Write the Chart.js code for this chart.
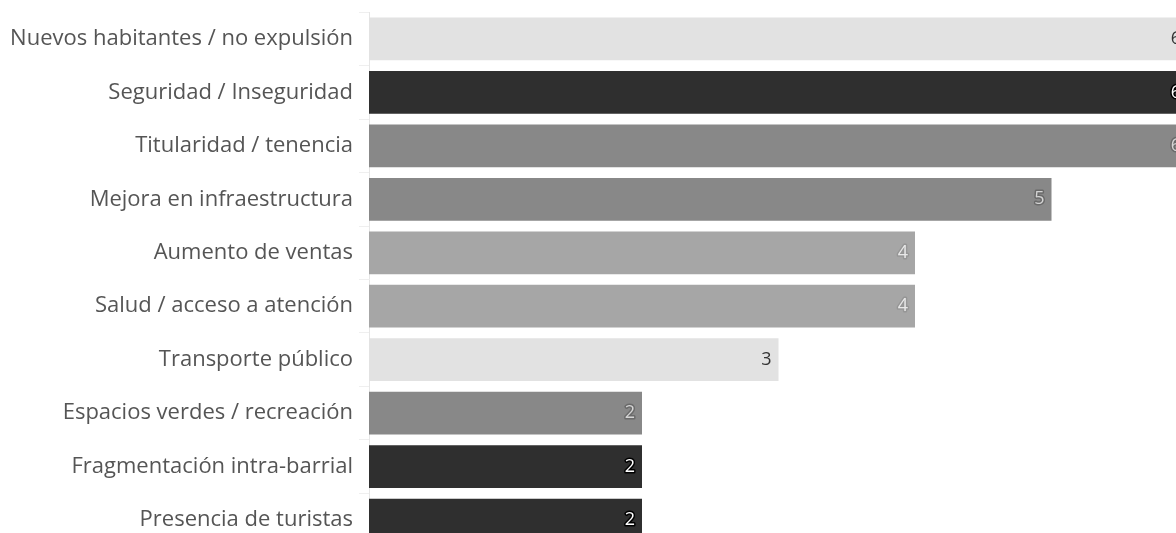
<!DOCTYPE html>
<html>
<head>
<meta charset="utf-8">
<script src="https://cdn.jsdelivr.net/npm/chart.js@4.4.1/dist/chart.umd.min.js"></script>
<style>
  html, body { margin: 0; padding: 0; background: #fff; overflow: hidden; }
  #wrap { position: relative; width: 1192px; height: 573px; margin-top: -7px; }
</style>
</head>
<body>
<div id="wrap"><canvas id="barChart"></canvas></div>
<script>
const categories = [
  "Nuevos habitantes / no expulsión",
  "Seguridad / Inseguridad",
  "Titularidad / tenencia",
  "Mejora en infraestructura",
  "Aumento de ventas",
  "Salud / acceso a atención",
  "Transporte público",
  "Espacios verdes / recreación",
  "Fragmentación intra-barrial",
  "Presencia de turistas"
];
const mentions = [6, 6, 6, 5, 4, 4, 3, 2, 2, 2];
const barColors = ["#e2e2e2", "#2f2f2f", "#888888", "#888888", "#a6a6a6", "#a6a6a6", "#e2e2e2", "#888888", "#2f2f2f", "#2f2f2f"];

// text colour + outline for the value labels, depending on bar shade
function labelStyle(bg) {
  if (bg === "#2f2f2f") return { fill: "#ffffff", stroke: "#000000" };
  if (bg === "#888888") return { fill: "#d4d4d4", stroke: "#6a6a6a" };
  if (bg === "#a6a6a6") return { fill: "#e8e8e8", stroke: "#969696" };
  return { fill: "#333333", stroke: null };
}

const valueLabels = {
  id: "valueLabels",
  afterDatasetsDraw(chart) {
    const ctx = chart.ctx;
    const meta = chart.getDatasetMeta(0);
    ctx.save();
    ctx.font = "18px 'Open Sans', sans-serif";
    ctx.textAlign = "right";
    ctx.textBaseline = "middle";
    meta.data.forEach((bar, i) => {
      const st = labelStyle(barColors[i]);
      const x = bar.x - 7;
      const y = bar.y;
      const txt = String(mentions[i]);
      if (st.stroke) {
        ctx.lineWidth = 3;
        ctx.strokeStyle = st.stroke;
        ctx.lineJoin = "round";
        ctx.strokeText(txt, x, y);
      }
      ctx.fillStyle = st.fill;
      ctx.fillText(txt, x, y);
    });
    ctx.restore();
  }
};

const ctx = document.getElementById("barChart").getContext("2d");

new Chart(ctx, {
  type: "bar",
  data: {
    labels: categories,
    datasets: [
      {
        data: mentions,
        backgroundColor: barColors,
        borderWidth: 0,
        categoryPercentage: 0.8,
        barPercentage: 1.0,
      },
    ],
  },
  options: {
    indexAxis: "y",
    responsive: true,
    maintainAspectRatio: false,
    animation: false,
    layout: { padding: { top: 0, right: 4, bottom: 0, left: 0 } },
    plugins: {
      legend: { display: false },
      tooltip: { enabled: false },
    },
    scales: {
      x: {
        display: false,
        min: 0,
        max: 6,
      },
      y: {
        afterFit(scale) {
          scale.width = 369;
        },
        grid: {
          drawOnChartArea: false,
          drawTicks: true,
          tickLength: 10,
          color: "#efefef",
        },
        border: { color: "#e6e6e6", width: 1 },
        ticks: {
          padding: 6,
          color: "#555555",
          font: { family: "'Open Sans', sans-serif", size: 22 },
        },
      },
    },
  },
  plugins: [valueLabels],
});
</script>
</body>
</html>
